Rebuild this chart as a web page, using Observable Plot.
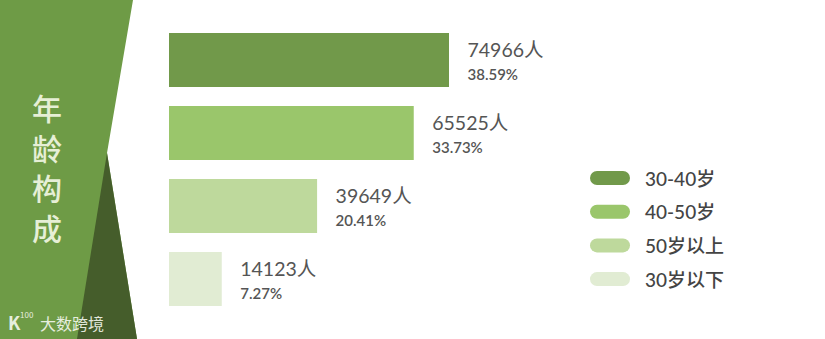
<!DOCTYPE html>
<html>
<head>
<meta charset="utf-8">
<script src="https://cdn.jsdelivr.net/npm/d3@7"></script>
<script src="https://cdn.jsdelivr.net/npm/@observablehq/plot@0.6"></script>
<style>
  html, body { margin: 0; padding: 0; background: #fff; }
  #chart svg { display: block; }
</style>
</head>
<body>
<div id="chart"></div>
<script>
const categories = ["30-40岁", "40-50岁", "50岁以上", "30岁以下"];
const counts = [74966, 65525, 39649, 14123];
const percents = ["38.59%", "33.73%", "20.41%", "7.27%"];
const barColors = ["#71994a", "#9ac66b", "#bed99c", "#e1ecd3"];
const titleText = "年龄构成";
const watermark = "大数跨境";

const data = categories.map((c, i) => ({cat: c, count: counts[i], pct: percents[i]}));
const latin = "Lato, 'Noto Sans CJK SC', sans-serif";

const chart = Plot.plot({
  width: 825,
  height: 339,
  margin: 0,
  style: {background: "#ffffff", fontFamily: latin},
  x: {domain: [0, d3.max(counts)], range: [169, 449], axis: null},
  y: {domain: categories, range: [32, 306], paddingInner: 0.265, paddingOuter: 0, axis: null},
  color: {domain: categories, range: barColors},
  marks: [
    Plot.barX(data, {x: "count", y: "cat", fill: "cat"}),
    Plot.text(data, {x: "count", y: "cat", text: d => d.count + "人", dx: 18, dy: -10,
      textAnchor: "start", fontSize: 19.5, fill: "#555"}),
    Plot.text(data, {x: "count", y: "cat", text: "pct", dx: 18, dy: 15,
      textAnchor: "start", fontSize: 15, fill: "#555", fontWeight: 600})
  ]
});
document.getElementById("chart").appendChild(chart);

// decorative left panel (not data)
const svg = d3.select(chart);
const deco = svg.insert("g", ":first-child");
deco.append("polygon").attr("points", "0,0 133,0 107,153 137,339 0,339").attr("fill", "#6e9b46");
deco.append("polygon").attr("points", "107,153 77,339 137,339").attr("fill", "#455d2b");
const t = deco.append("text")
  .attr("fill", "#e6efd6").attr("font-size", 30).attr("font-weight", 500)
  .attr("font-family", "'Noto Sans CJK SC', sans-serif")
  .attr("text-anchor", "middle").attr("dominant-baseline", "central");
Array.from(titleText).forEach((ch, i) => {
  t.append("tspan").attr("x", 47).attr("y", 107 + i * 40).text(ch);
});
const wm = deco.append("g").attr("fill", "#f4f7ee").attr("opacity", 0.9)
  .attr("text-anchor", "start")
  .attr("font-family", "'Noto Sans CJK SC', sans-serif");
wm.append("text").attr("x", 8).attr("y", 330).attr("font-size", 18).attr("font-weight", 700).text("K");
wm.append("text").attr("x", 20).attr("y", 318).attr("font-size", 8).text("100");
wm.append("text").attr("x", 40).attr("y", 323).attr("dominant-baseline", "central")
  .attr("font-size", 16).text(watermark);

// legend from the plot's colour scale
const colorScale = chart.scale("color");
const lg = svg.append("g").attr("text-anchor", "start");
colorScale.domain.forEach((c, i) => {
  const cy = 178 + i * 33.7;
  lg.append("rect").attr("x", 590).attr("y", cy - 7).attr("width", 40).attr("height", 14)
    .attr("rx", 7).attr("fill", colorScale.range[i]);
  lg.append("text").attr("x", 645).attr("y", cy).attr("dominant-baseline", "central")
    .attr("font-size", 19).attr("font-weight", 500).attr("fill", "#444")
    .attr("font-family", latin).text(c);
});
</script>
</body>
</html>
